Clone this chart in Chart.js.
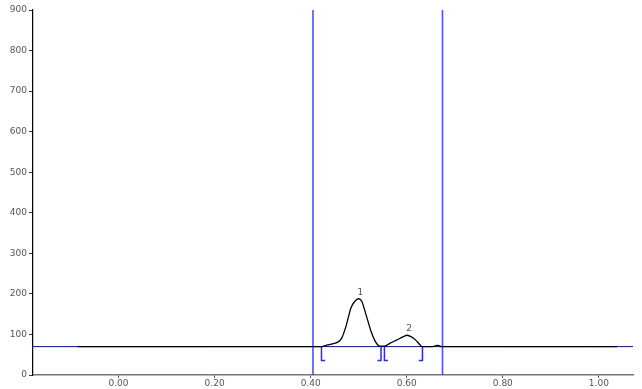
<!doctype html>
<html>
<head>
<meta charset="UTF-8" />
<title>Chromatogram</title>
<style>
  html, body { margin: 0; padding: 0; background: #fff; }
  .wrap { width: 642px; height: 389px; position: relative; }
</style>
</head>
<body>
<div class="wrap"><canvas id="chart" width="642" height="389"></canvas></div>
<script src="https://cdn.jsdelivr.net/npm/chart.js"></script>
<script>
  // axis ranges
  var xMin = -0.178, xMax = 1.071;
  var yMin = 0, yMax = 900;
  var xTicks = [0, 0.2, 0.4, 0.6, 0.8, 1.0];
  var yTicks = [0, 100, 200, 300, 400, 500, 600, 700, 800, 900];

  // detector signal
  var sigX = [-0.085, 0.4215, 0.4354, 0.4458, 0.4563, 0.4646, 0.4735, 0.484, 0.4923, 0.4994,
              0.5063, 0.5152, 0.5256, 0.536, 0.545, 0.5542, 0.5646, 0.5785, 0.5923, 0.6006,
              0.6098, 0.6188, 0.6271, 0.6319, 0.654, 0.660, 0.6652, 0.6698, 0.673, 1.0375];
  var sigY = [70, 70, 74, 77, 81, 91, 120, 166, 182, 188,
              182, 149, 108, 80, 71, 71, 78, 86, 94, 98,
              94, 86, 75, 70, 70, 72, 73, 71, 70, 70];

  // integration baseline + window
  var baseLevel = 70;
  var windowLines = [0.4048, 0.6744];

  // peaks
  var peakNames = ["1", "2"];
  var peakStart = [0.4225, 0.5535];
  var peakEnd = [0.5465, 0.6327];
  var peakApexX = [0.4994, 0.6006];
  var peakApexY = [188, 98];
  var markLevel = 36;
  var markTick = 0.0075;

  var blue = "rgb(40,40,255)";
  var datasets = [];

  datasets.push({
    label: "signal",
    data: sigX.map(function (x, i) { return { x: x, y: sigY[i] }; }),
    borderColor: "#000",
    borderWidth: 1.3,
    pointRadius: 0,
    cubicInterpolationMode: "monotone",
    order: 0
  });

  datasets.push({
    label: "baseline",
    data: [{ x: xMin, y: baseLevel }, { x: xMax, y: baseLevel }],
    borderColor: "rgb(0,0,230)",
    borderWidth: 1,
    pointRadius: 0,
    order: 3
  });

  windowLines.forEach(function (wx) {
    datasets.push({
      data: [{ x: wx, y: yMin }, { x: wx, y: yMax }],
      borderColor: "rgba(50,50,255,0.85)",
      borderWidth: 1.6,
      pointRadius: 0,
      order: 1
    });
  });

  // peak start/end markers
  for (var i = 0; i < peakStart.length; i++) {
    datasets.push({
      data: [{ x: peakStart[i], y: baseLevel }, { x: peakStart[i], y: markLevel },
             { x: peakStart[i] + markTick, y: markLevel }],
      borderColor: blue, borderWidth: 1.5, pointRadius: 0, tension: 0, order: 2
    });
    datasets.push({
      data: [{ x: peakEnd[i], y: baseLevel }, { x: peakEnd[i], y: markLevel },
             { x: peakEnd[i] - markTick, y: markLevel }],
      borderColor: blue, borderWidth: 1.5, pointRadius: 0, tension: 0, order: 2
    });
  }

  var fontFam = "'DejaVu Sans', sans-serif";

  var peakLabelPlugin = {
    id: "peakLabels",
    afterDatasetsDraw: function (chart) {
      var ctx = chart.ctx;
      var xs = chart.scales.x, ys = chart.scales.y;
      ctx.save();
      ctx.font = "9px " + fontFam;
      ctx.fillStyle = "#555";
      ctx.textAlign = "center";
      ctx.textBaseline = "bottom";
      peakNames.forEach(function (n, i) {
        ctx.fillText(n, xs.getPixelForValue(peakApexX[i]) + 2, ys.getPixelForValue(peakApexY[i]) - 2);
      });
      ctx.restore();
    }
  };

  var tickFont = { family: fontFam, size: 9 };

  new Chart(document.getElementById("chart").getContext("2d"), {
    type: "line",
    data: { datasets: datasets },
    plugins: [peakLabelPlugin],
    options: {
      responsive: false,
      animation: false,
      layout: { padding: { top: 10, right: 9, left: 0, bottom: 0 } },
      plugins: { legend: { display: false }, tooltip: { enabled: false } },
      scales: {
        x: {
          type: "linear",
          min: xMin,
          max: xMax,
          afterBuildTicks: function (axis) {
            axis.ticks = xTicks.map(function (v) { return { value: v }; });
          },
          afterFit: function (axis) { axis.height = 14; },
          border: { color: "#777", width: 1.5 },
          grid: { drawOnChartArea: false, drawTicks: true, tickLength: 3, color: "#555" },
          ticks: {
            font: tickFont,
            color: "#555",
            padding: 0,
            maxRotation: 0,
            callback: function (v) { return Number(v).toFixed(2); }
          }
        },
        y: {
          min: yMin,
          max: yMax,
          afterBuildTicks: function (axis) {
            axis.ticks = yTicks.map(function (v) { return { value: v }; });
          },
          afterFit: function (axis) { axis.width = 33; },
          border: { color: "#000", width: 1.2 },
          grid: { drawOnChartArea: false, drawTicks: true, tickLength: 4, color: "#333" },
          ticks: { font: tickFont, color: "#555", padding: 2 }
        }
      }
    }
  });
</script>
</body>
</html>
